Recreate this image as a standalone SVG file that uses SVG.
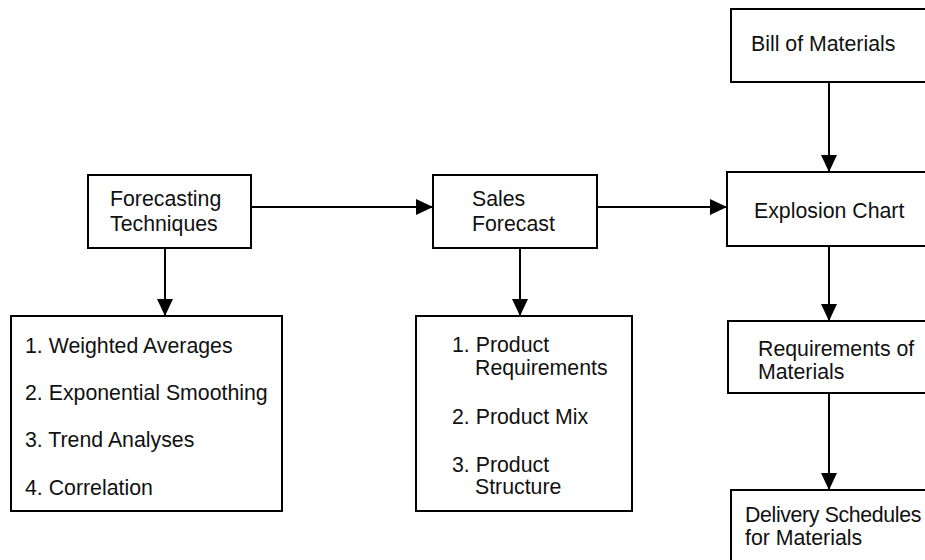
<svg xmlns="http://www.w3.org/2000/svg" width="925" height="560" viewBox="0 0 925 560">
<style>
.box{fill:#fff;stroke:#000;stroke-width:2}
.t{font-family:"Liberation Sans",Arial,sans-serif;font-size:21.3px;fill:#111}
.c{stroke:#000;stroke-width:2;fill:none}
</style>
<defs>
<marker id="ah" markerUnits="userSpaceOnUse" markerWidth="18" markerHeight="16" refX="17" refY="8" orient="auto">
<path d="M0,0 L17,8 L0,16 Z" fill="#000"/>
</marker>
</defs>
<rect width="925" height="560" fill="#fff"/>
<g id="connectors">
<line class="c" x1="251" y1="207" x2="433" y2="207" marker-end="url(#ah)"/>
<line class="c" x1="597" y1="207" x2="727" y2="207" marker-end="url(#ah)"/>
<line class="c" x1="165" y1="248" x2="165" y2="316" marker-end="url(#ah)"/>
<line class="c" x1="520" y1="248" x2="520" y2="316" marker-end="url(#ah)"/>
<line class="c" x1="829" y1="82" x2="829" y2="172" marker-end="url(#ah)"/>
<line class="c" x1="829" y1="246" x2="829" y2="321" marker-end="url(#ah)"/>
<line class="c" x1="829" y1="393" x2="829" y2="490" marker-end="url(#ah)"/>
</g>
<g id="forecasting-techniques">
<rect class="box" x="88" y="175" width="163" height="73"/>
<text class="t" x="110" y="206">Forecasting</text>
<text class="t" x="110" y="231">Techniques</text>
</g>
<g id="sales-forecast">
<rect class="box" x="433" y="175" width="164" height="73"/>
<text class="t" x="472" y="206">Sales</text>
<text class="t" x="472" y="231">Forecast</text>
</g>
<g id="bill-of-materials">
<rect class="box" x="731" y="9" width="210" height="73"/>
<text class="t" x="751" y="51">Bill of Materials</text>
</g>
<g id="explosion-chart">
<rect class="box" x="727" y="172" width="214" height="74"/>
<text class="t" x="754" y="218">Explosion Chart</text>
</g>
<g id="requirements-of-materials">
<rect class="box" x="728" y="321" width="213" height="72"/>
<text class="t" x="758" y="356">Requirements of</text>
<text class="t" x="758" y="379">Materials</text>
</g>
<g id="delivery-schedules">
<rect class="box" x="731" y="490" width="210" height="90"/>
<text class="t" x="745" y="522" letter-spacing="-0.35">Delivery Schedules</text>
<text class="t" x="745" y="545">for Materials</text>
</g>
<g id="forecasting-methods">
<rect class="box" x="11" y="316" width="271" height="195"/>
<text class="t" x="25" y="353">1. Weighted Averages</text>
<text class="t" x="25" y="400">2. Exponential Smoothing</text>
<text class="t" x="25" y="447">3. Trend Analyses</text>
<text class="t" x="25" y="495">4. Correlation</text>
</g>
<g id="product-items">
<rect class="box" x="416" y="316" width="216" height="195"/>
<text class="t" x="452" y="352">1. Product</text>
<text class="t" x="475" y="375">Requirements</text>
<text class="t" x="452" y="424">2. Product Mix</text>
<text class="t" x="452" y="472">3. Product</text>
<text class="t" x="475" y="494">Structure</text>
</g>
</svg>
